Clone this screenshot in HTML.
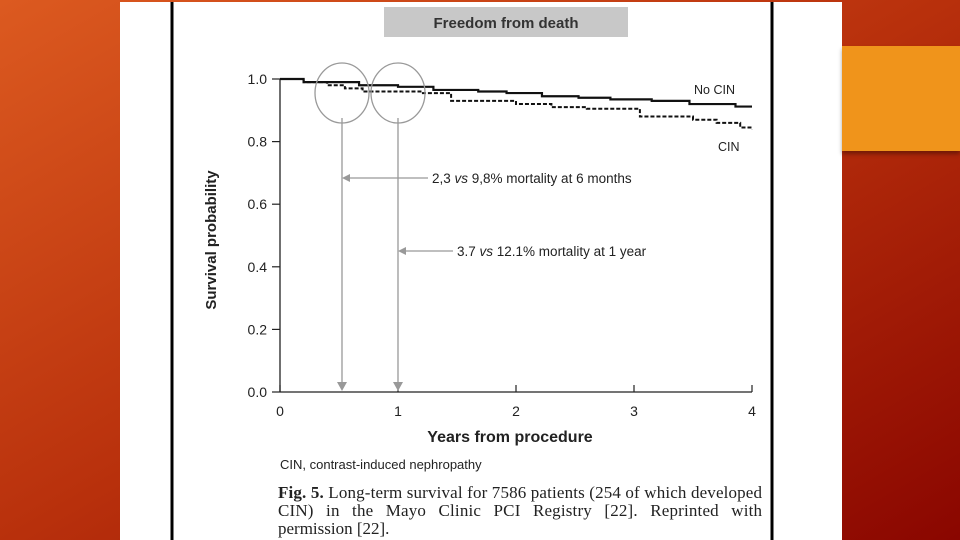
<!DOCTYPE html>
<html><head><meta charset="utf-8"><style>
html,body{margin:0;padding:0}
body{width:960px;height:540px;position:relative;overflow:hidden;background:linear-gradient(150deg,#dc5a20 0%,#b8300c 50%,#8a0600 100%);font-family:"Liberation Sans",sans-serif}
#panel{position:absolute;left:120px;top:2px;width:722px;height:538px;background:#fff}
#accent{position:absolute;left:842px;top:46px;width:118px;height:105px;background:#f0941b;box-shadow:0 3px 4px rgba(0,0,0,.35)}
svg{position:absolute;left:0;top:0}
</style></head><body>
<div id="panel"></div>
<div id="accent"></div>
<svg width="960" height="540" font-family="Liberation Sans, sans-serif">
<line x1="172" y1="2" x2="172" y2="540" stroke="#000" stroke-width="3"/>
<line x1="772" y1="2" x2="772" y2="540" stroke="#000" stroke-width="3"/>
<rect x="384" y="7" width="244" height="30" fill="#c8c8c8"/>
<text x="506" y="28" text-anchor="middle" font-size="15" font-weight="bold" fill="#333">Freedom from death</text>
<g id="axes"></g>
<g id="series"></g>
<g id="annot" stroke="#999" fill="none" stroke-width="1.3">
<ellipse cx="342" cy="93" rx="27" ry="30"/>
<ellipse cx="398" cy="93" rx="27" ry="30"/>
<line x1="342" y1="118" x2="342" y2="384"/>
<line x1="398" y1="118" x2="398" y2="384"/>
<line x1="348" y1="178" x2="428" y2="178"/>
<line x1="404" y1="251" x2="453" y2="251"/>
<path d="M337 382 L347 382 L342 391 Z M393 382 L403 382 L398 391 Z M342 178 L350 174 L350 182 Z M398 251 L406 247 L406 255 Z" fill="#999" stroke="none"/>
</g>
<text x="432" y="183" font-size="13.5" fill="#222">2,3 <tspan font-style="italic">vs</tspan> 9,8% mortality at 6 months</text>
<text x="457" y="256" font-size="13.5" fill="#222">3.7 <tspan font-style="italic">vs</tspan> 12.1% mortality at 1 year</text>
<text x="694" y="94" font-size="12.5" fill="#222">No CIN</text>
<text x="718" y="151" font-size="12.5" fill="#222">CIN</text>
<text transform="translate(216,240) rotate(-90)" text-anchor="middle" font-size="15" font-weight="bold" fill="#222">Survival probability</text>
<text x="510" y="442" text-anchor="middle" font-size="16" font-weight="bold" fill="#222">Years from procedure</text>
<text x="280" y="469" font-size="13" fill="#222">CIN, contrast-induced nephropathy</text>
<g font-family="Liberation Serif, serif" font-size="17" fill="#222">
<text x="278" y="498" textLength="484" lengthAdjust="spacing"><tspan font-weight="bold">Fig. 5.</tspan> Long-term survival for 7586 patients (254 of which developed</text>
<text x="278" y="516" textLength="484" lengthAdjust="spacing" word-spacing="8">CIN) in the Mayo Clinic PCI Registry [22]. Reprinted with</text>
<text x="278" y="534">permission [22].</text>
</g>
</svg>
<script>
const xTicks=[0,1,2,3,4];
const yTicks=[0,0.2,0.4,0.6,0.8,1.0];
const yTickLabels=["0.0","0.2","0.4","0.6","0.8","1.0"];
const noCinT=[0,0.2,0.67,1.0,1.3,1.68,1.92,2.22,2.53,2.8,3.15,3.47,3.86,4];
const noCinS=[1.0,0.99,0.98,0.975,0.965,0.96,0.955,0.945,0.94,0.935,0.93,0.92,0.912,0.912];
const cinT=[0,0.2,0.4,0.55,0.7,1.2,1.45,2.0,2.3,2.6,3.05,3.5,3.7,3.9,4];
const cinS=[1.0,0.99,0.98,0.97,0.96,0.955,0.93,0.92,0.91,0.905,0.88,0.87,0.86,0.845,0.84];
const X=t=>280+t*118;
const Y=v=>392-v*313;
const NS="http://www.w3.org/2000/svg";
const axes=document.getElementById('axes');
function mk(tag,attrs,parent){const e=document.createElementNS(NS,tag);for(const k in attrs)e.setAttribute(k,attrs[k]);parent.appendChild(e);return e;}
const ya=mk('line',{x1:X(0),y1:Y(1),x2:X(0),y2:Y(0),stroke:'#222','stroke-width':1.3},axes);


const xa=mk('line',{x1:X(0),y1:Y(0),x2:X(4),y2:Y(0),stroke:'#222','stroke-width':1.3},axes);


yTicks.forEach((v,i)=>{
  const tk=mk('line',{x1:X(0)-8,y1:Y(v),x2:X(0),y2:Y(v),stroke:'#222','stroke-width':1.2},axes);
  
  
  const tx=mk('text',{x:X(0)-13,y:Y(v)+5,'text-anchor':'end','font-size':14,fill:'#222'},axes);
  tx.textContent=yTickLabels[i];
  
  
});
xTicks.forEach(t=>{
  const tk=mk('line',{x1:X(t),y1:Y(0),x2:X(t),y2:Y(0)-7,stroke:'#222','stroke-width':1.2},axes);
  
  
  const tx=mk('text',{x:X(t),y:Y(0)+24,'text-anchor':'middle','font-size':14,fill:'#222'},axes);
  tx.textContent=String(t);
  
  
});
function stepPath(T,S){let d='M'+X(T[0])+' '+Y(S[0]);for(let i=1;i<T.length;i++){d+=' H'+X(T[i])+' V'+Y(S[i]);}return d;}
const ser=document.getElementById('series');
const p1=mk('path',{d:stepPath(noCinT,noCinS),fill:'none',stroke:'#111','stroke-width':2.2},ser);


const p2=mk('path',{d:stepPath(cinT,cinS),fill:'none',stroke:'#111','stroke-width':2,'stroke-dasharray':'4 2'},ser);


</script>
</body></html>
